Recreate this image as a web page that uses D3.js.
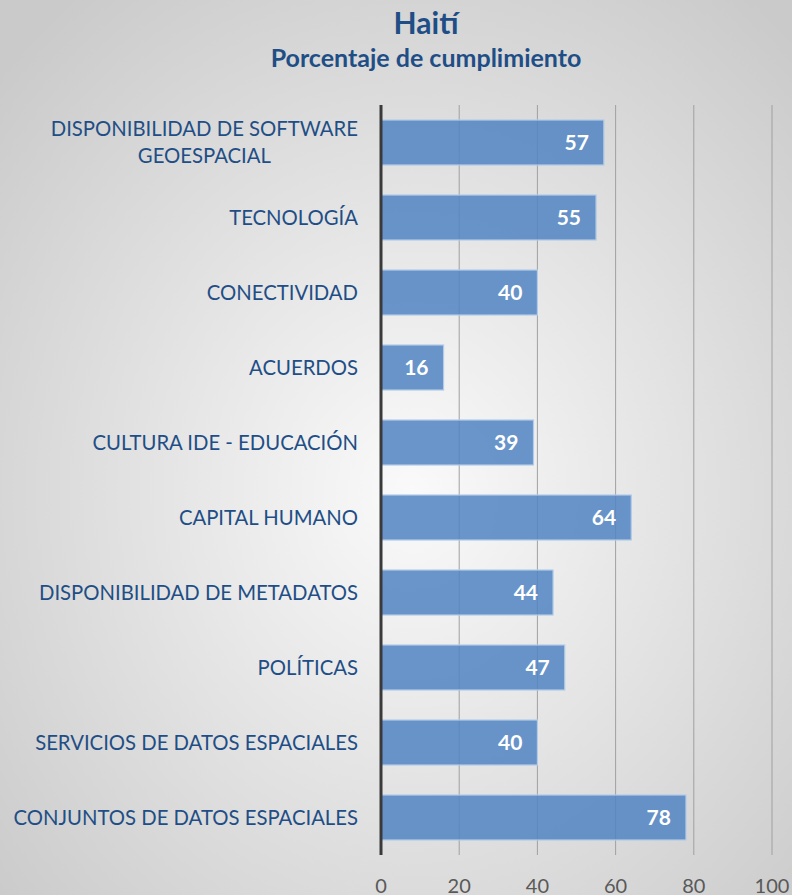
<!DOCTYPE html>
<html>
<head>
<meta charset="utf-8">
<script src="https://cdn.jsdelivr.net/npm/d3@7"></script>
<style>
  body { margin: 0; }
  svg { display: block; }
</style>
</head>
<body>
<div id="chart"></div>
<script>
const categories = [
    'DISPONIBILIDAD DE SOFTWARE GEOESPACIAL',
    'TECNOLOGÍA',
    'CONECTIVIDAD',
    'ACUERDOS',
    'CULTURA IDE - EDUCACIÓN',
    'CAPITAL HUMANO',
    'DISPONIBILIDAD DE METADATOS',
    'POLÍTICAS',
    'SERVICIOS DE DATOS ESPACIALES',
    'CONJUNTOS DE DATOS ESPACIALES'
];
const labelLines = [
    ['DISPONIBILIDAD DE SOFTWARE', 'GEOESPACIAL'],
    ['TECNOLOGÍA'],
    ['CONECTIVIDAD'],
    ['ACUERDOS'],
    ['CULTURA IDE - EDUCACIÓN'],
    ['CAPITAL HUMANO'],
    ['DISPONIBILIDAD DE METADATOS'],
    ['POLÍTICAS'],
    ['SERVICIOS DE DATOS ESPACIALES'],
    ['CONJUNTOS DE DATOS ESPACIALES']
];
const values = [57, 55, 40, 16, 39, 64, 44, 47, 40, 78];
const ticks = [0, 20, 40, 60, 80, 100];

const W = 792, H = 895;
const font = 'Lato, "Open Sans", sans-serif';

const svg = d3.select('#chart')
    .append('svg')
    .attr('width', W)
    .attr('height', H);

// background
const defs = svg.append('defs');
const grad = defs.append('radialGradient')
    .attr('id', 'bg')
    .attr('cx', '52%').attr('cy', '55%').attr('r', '70%');
grad.append('stop').attr('offset', '0%').attr('stop-color', '#fafafa');
grad.append('stop').attr('offset', '100%').attr('stop-color', '#cacaca');
svg.append('rect').attr('width', W).attr('height', H).attr('fill', 'url(#bg)');

// titles
svg.append('text')
    .attr('x', 426).attr('y', 34)
    .attr('text-anchor', 'middle')
    .style('font-family', font).style('font-weight', 'bold')
    .style('font-size', '30px').attr('fill', '#1f4e86')
    .text('Haití');
svg.append('text')
    .attr('x', 426).attr('y', 67)
    .attr('text-anchor', 'middle')
    .style('font-family', font).style('font-weight', 'bold')
    .style('font-size', '25px').attr('fill', '#1f4e86')
    .text('Porcentaje de cumplimiento');

// scales
const x = d3.scaleLinear().domain([0, 100]).range([381, 772]);
const y = d3.scaleBand()
    .domain(categories)
    .range([105, 855])
    .paddingInner(0.4)
    .paddingOuter(0.2);

// gridlines
svg.append('g')
    .selectAll('line')
    .data(ticks.slice(1))
    .enter()
    .append('line')
    .attr('x1', d => x(d)).attr('x2', d => x(d))
    .attr('y1', 105).attr('y2', 855)
    .attr('stroke', '#a0a0a0').attr('stroke-width', 1);

// bars
svg.selectAll('.bar')
    .data(values)
    .enter()
    .append('rect')
    .attr('class', 'bar')
    .attr('x', x(0))
    .attr('y', (d, i) => y(categories[i]))
    .attr('width', d => x(d) - x(0))
    .attr('height', y.bandwidth())
    .attr('fill', '#5185c2')
    .attr('fill-opacity', 0.86)
    .attr('stroke', '#b3cbe8')
    .attr('stroke-width', 1.2);

// value labels
svg.selectAll('.val')
    .data(values)
    .enter()
    .append('text')
    .attr('class', 'val')
    .attr('x', d => x(d) - 15)
    .attr('y', (d, i) => y(categories[i]) + y.bandwidth() / 2)
    .attr('dy', '0.35em')
    .attr('text-anchor', 'end')
    .style('font-family', font).style('font-weight', 'bold')
    .style('font-size', '21px').attr('fill', '#ffffff')
    .text(d => d);

// zero axis line
svg.append('line')
    .attr('x1', x(0)).attr('x2', x(0))
    .attr('y1', 105).attr('y2', 855)
    .attr('stroke', '#3a3a3a').attr('stroke-width', 3);

// category labels
const cat = svg.selectAll('.cat')
    .data(labelLines)
    .enter()
    .append('text')
    .attr('class', 'cat')
    .attr('text-anchor', 'middle')
    .style('font-family', font)
    .style('font-size', '20.3px').attr('fill', '#1f4e86');

cat.each(function(lines, i) {
    const t = d3.select(this);
    const cy = y(categories[i]) + y.bandwidth() / 2;
    const lh = 27;
    const spans = lines.map((ln, j) => t.append('tspan')
        .attr('x', 0)
        .attr('y', cy + (j - (lines.length - 1) / 2) * lh)
        .attr('dy', '0.35em')
        .text(ln));
    // right-align the block at 358, lines centred within it
    const w = d3.max(spans, s => s.node().getComputedTextLength());
    spans.forEach(s => s.attr('x', 358 - w / 2));
});

// x axis tick labels
svg.selectAll('.tick-lbl')
    .data(ticks)
    .enter()
    .append('text')
    .attr('class', 'tick-lbl')
    .attr('x', d => x(d))
    .attr('y', 886)
    .attr('dy', '0.35em')
    .attr('text-anchor', 'middle')
    .style('font-family', font)
    .style('font-size', '20px').attr('fill', '#595959')
    .text(d => d);
</script>
</body>
</html>
